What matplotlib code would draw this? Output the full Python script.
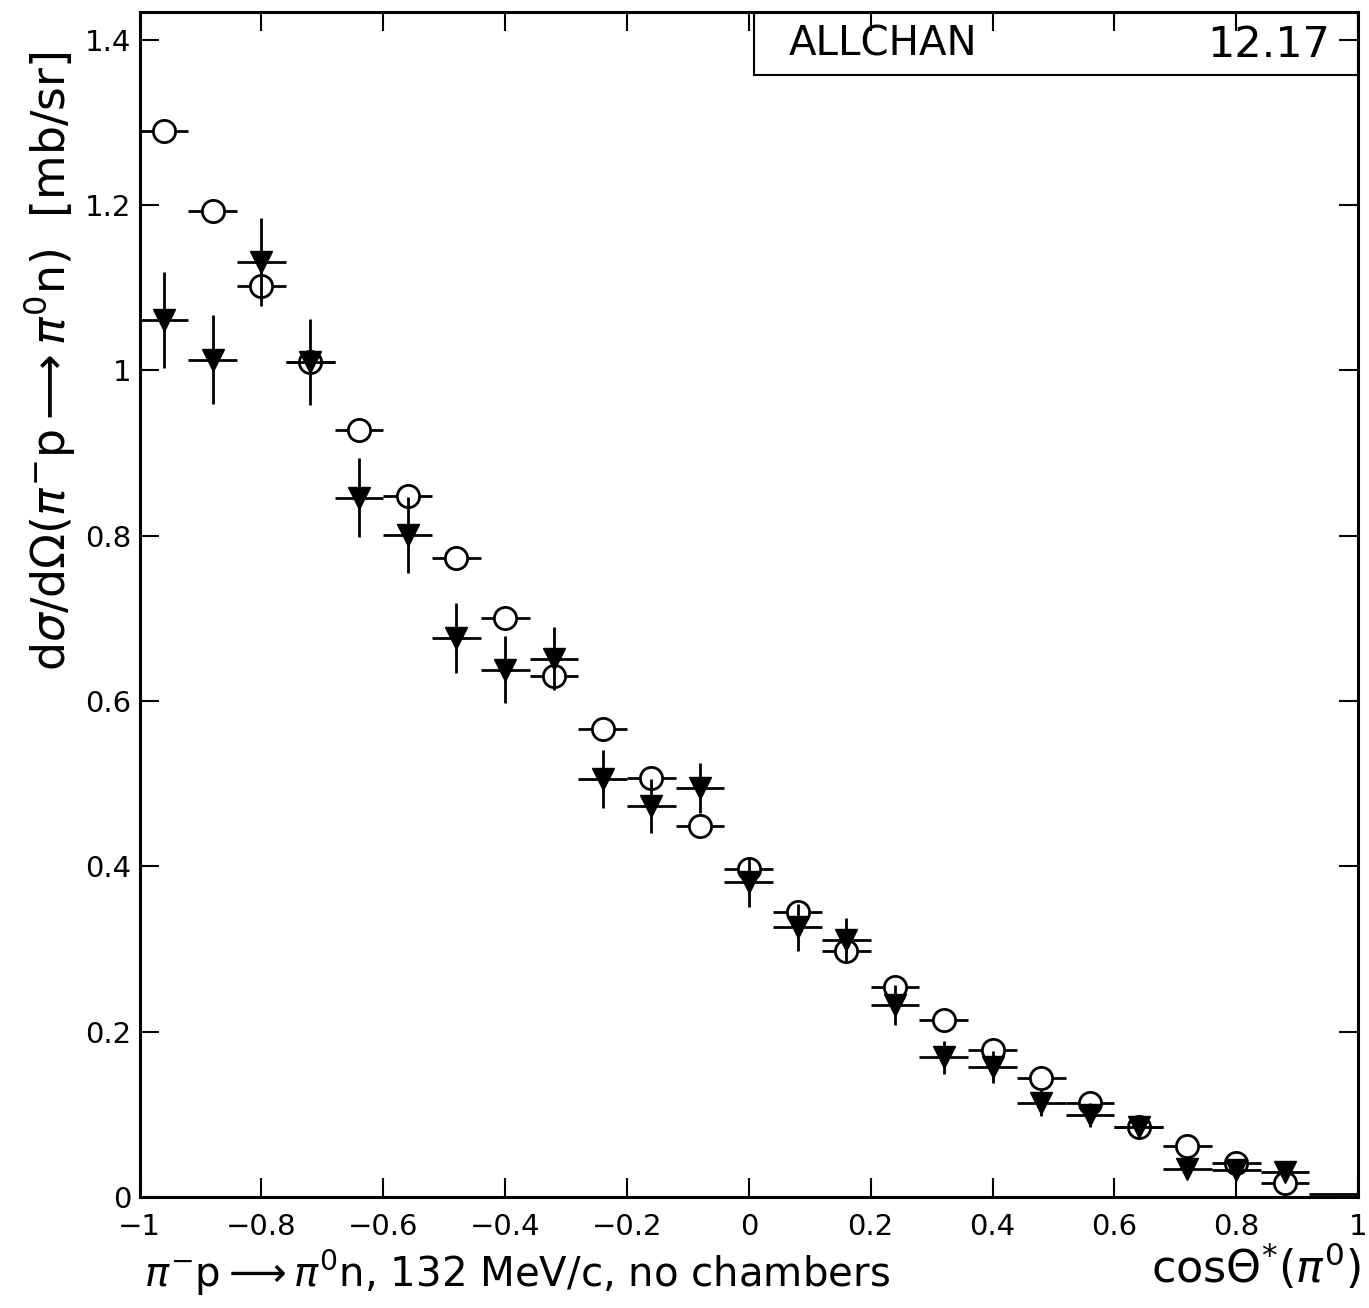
import matplotlib
matplotlib.use("Agg")
import matplotlib.pyplot as plt
from matplotlib.patches import Rectangle
from matplotlib.ticker import FuncFormatter

# bin centres in cos(theta*), bin width 0.08
cos_bins = [-0.96, -0.88, -0.80, -0.72, -0.64, -0.56, -0.48, -0.40, -0.32, -0.24, -0.16, -0.08,
            0.00, 0.08, 0.16, 0.24, 0.32, 0.40, 0.48, 0.56, 0.64, 0.72, 0.80, 0.88]
half_width = 0.04

# open circles
circle_vals = [1.290, 1.193, 1.102, 1.010, 0.928, 0.848, 0.773, 0.701, 0.630, 0.566, 0.507, 0.449,
               0.397, 0.345, 0.298, 0.254, 0.214, 0.178, 0.144, 0.114, 0.084, 0.061, 0.041, 0.017]
circle_errs = [0.010, 0.010, 0.010, 0.010, 0.009, 0.009, 0.008, 0.008, 0.008, 0.007, 0.007, 0.007,
               0.006, 0.006, 0.006, 0.005, 0.005, 0.005, 0.004, 0.004, 0.004, 0.003, 0.003, 0.003]

# filled triangles
tri_vals = [1.061, 1.013, 1.131, 1.010, 0.846, 0.801, 0.676, 0.638, 0.651, 0.506, 0.473, 0.495,
            0.381, 0.326, 0.311, 0.232, 0.169, 0.157, 0.114, 0.099, 0.084, 0.034, 0.033, 0.030]
tri_errs = [0.058, 0.054, 0.053, 0.052, 0.048, 0.046, 0.042, 0.041, 0.038, 0.035, 0.033, 0.030,
            0.030, 0.028, 0.026, 0.024, 0.020, 0.019, 0.016, 0.015, 0.013, 0.011, 0.010, 0.009]

# last bin, only the flat line is visible
last_bin_x = [0.96]
last_bin_y = [0.003]

plt.rcParams['axes.unicode_minus'] = True
plt.rcParams['font.family'] = 'DejaVu Sans'
plt.rcParams['mathtext.fontset'] = 'dejavusans'

fig = plt.figure(figsize=(13.69, 13.08), dpi=100)
ax = fig.add_axes([0.102, 0.085, 0.890, 0.906])

ax.errorbar(cos_bins, circle_vals, xerr=half_width, yerr=circle_errs, fmt='o', color='black',
            mfc='white', mec='black', mew=2, ms=16, elinewidth=2, capsize=0, zorder=3)
ax.errorbar(cos_bins, tri_vals, xerr=half_width, yerr=tri_errs, fmt='v', color='black',
            mfc='black', mec='black', ms=16, elinewidth=2, capsize=0, zorder=4)
ax.errorbar(last_bin_x, last_bin_y, xerr=half_width, fmt='none', color='black',
            elinewidth=2, capsize=0, zorder=4)

ax.set_xlim(-1, 1)
ax.set_ylim(0, 1.434)
ax.set_xticks([-1, -0.8, -0.6, -0.4, -0.2, 0, 0.2, 0.4, 0.6, 0.8, 1])
ax.set_yticks([0, 0.2, 0.4, 0.6, 0.8, 1, 1.2, 1.4])
fmt = FuncFormatter(lambda v, p: ('%g' % round(v, 2)).replace('-', '\u2212'))
ax.xaxis.set_major_formatter(fmt)
ax.yaxis.set_major_formatter(fmt)
ax.tick_params(direction='in', length=14, width=1.5, labelsize=21, top=True, right=True,
               labeltop=False, labelright=False)
ax.tick_params(axis='x', pad=12)
ax.tick_params(axis='y', pad=6)
for s in ax.spines.values():
    s.set_linewidth(2.2)

ax.add_patch(Rectangle((0.504, 0.947), 0.496, 0.053, transform=ax.transAxes,
                       fill=False, edgecolor='black', lw=1.5, zorder=5))
ax.text(0.533, 0.972, 'ALLCHAN', transform=ax.transAxes, fontsize=29, va='center', ha='left')
ax.text(0.977, 0.972, '12.17', transform=ax.transAxes, fontsize=31, va='center', ha='right')

fig.text(0.036, 0.724, r'd$\sigma$/d$\Omega$($\pi^{-}$p$\longrightarrow\pi^{0}$n)  [mb/sr]',
         rotation=90, fontsize=33, ha='center', va='center')
fig.text(0.105, 0.008, r'$\pi^{-}$p$\longrightarrow\pi^{0}$n, 132 MeV/c, no chambers',
         fontsize=29, ha='left', va='bottom')
fig.text(0.994, 0.012, r'cos$\Theta^{*}$($\pi^{0}$)', fontsize=32, ha='right', va='bottom')

fig.savefig('out.png', dpi=100)
